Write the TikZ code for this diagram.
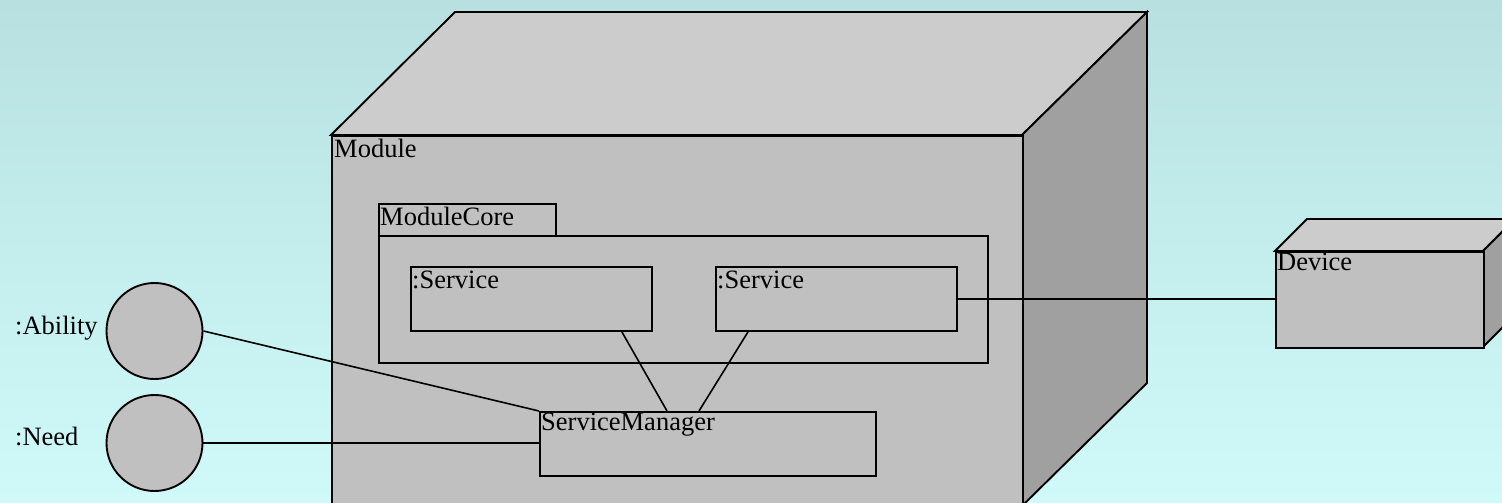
\documentclass[tikz,border=0pt]{standalone}
\usepackage{fontspec}
\setmainfont{Liberation Serif}
\definecolor{bgtop}{RGB}{184,224,224}
\definecolor{bgbot}{RGB}{208,250,250}
\definecolor{frontgray}{RGB}{191,192,191}
\definecolor{topgray}{RGB}{204,204,204}
\definecolor{sidegray}{RGB}{160,160,160}
\tikzset{
  face/.style={draw=black, line width=1.9pt, line join=miter},
  box/.style={draw=black, line width=1.9pt, fill=frontgray, rectangle, inner sep=0pt, anchor=north west},
  lbl/.style={inner sep=0pt, anchor=base west, font=\fontsize{26.5}{30}\selectfont},
  conn/.style={draw=black, line width=1.6pt},
  port/.style={draw=black, line width=1.9pt, fill=frontgray, circle, inner sep=0pt, minimum size=96pt}
}
\begin{document}
\begin{tikzpicture}[x=1pt,y=-1pt]
\path[use as bounding box] (0,0) rectangle (1502,503);
\clip (0,0) rectangle (1502,503);
\shade[top color=bgtop, bottom color=bgbot] (0,0) rectangle (1502,503);
% Module cube
\filldraw[face, fill=topgray] (331,135) -- (455,12) -- (1147,12) -- (1022,135) -- cycle;
\filldraw[face, fill=sidegray] (1022,135) -- (1147,12) -- (1147,383) -- (1022,506) -- cycle;
\node[box, minimum width=691pt, minimum height=371pt] (module) at (331,135) {};
\node[lbl] (modlbl) at (334,157) {Module};
% ModuleCore
\node[box, minimum width=177pt, minimum height=32pt] (tab) at (378,203) {};
\node[lbl] (tablbl) at (380,225) {ModuleCore};
\node[box, minimum width=609pt, minimum height=127pt] (core) at (378,235) {};
\node[box, minimum width=241pt, minimum height=64pt] (s1) at (410,266) {};
\node[lbl] (s1lbl) at (412,288) {:Service};
\node[box, minimum width=241pt, minimum height=64pt] (s2) at (715,266) {};
\node[lbl] (s2lbl) at (717,288) {:Service};
% ServiceManager
\node[box, minimum width=336pt, minimum height=64pt] (sm) at (539,411) {};
\node[lbl] (smlbl) at (541,430) {ServiceManager};
% Ports
\node[port] (ab) at (154.5,331) {};
\node[lbl] (ablbl) at (15,334) {:Ability};
\node[port] (nd) at (154.5,443) {};
\node[lbl] (ndlbl) at (15,445) {:Need};
% Device
\filldraw[face, fill=topgray] (1275,251) -- (1307,219) -- (1515,219) -- (1483,251) -- cycle;
\filldraw[face, fill=sidegray] (1483,251) -- (1515,219) -- (1515,315) -- (1483,347) -- cycle;
\node[box, minimum width=208pt, minimum height=96pt] (dev) at (1275,251) {};
\node[lbl] (devlbl) at (1277,270) {Device};
% Connectors
\draw[conn] (ab.east) -- (sm.north west);
\draw[conn] (nd.east) -- (nd.east -| sm.west);
\draw[conn] ([xshift=-31pt]s1.south east) -- ([xshift=128pt]sm.north west);
\draw[conn] ([xshift=33pt]s2.south west) -- ([xshift=160pt]sm.north west);
\draw[conn] (s2.east) -- (s2.east -| dev.west);
\end{tikzpicture}
\end{document}
